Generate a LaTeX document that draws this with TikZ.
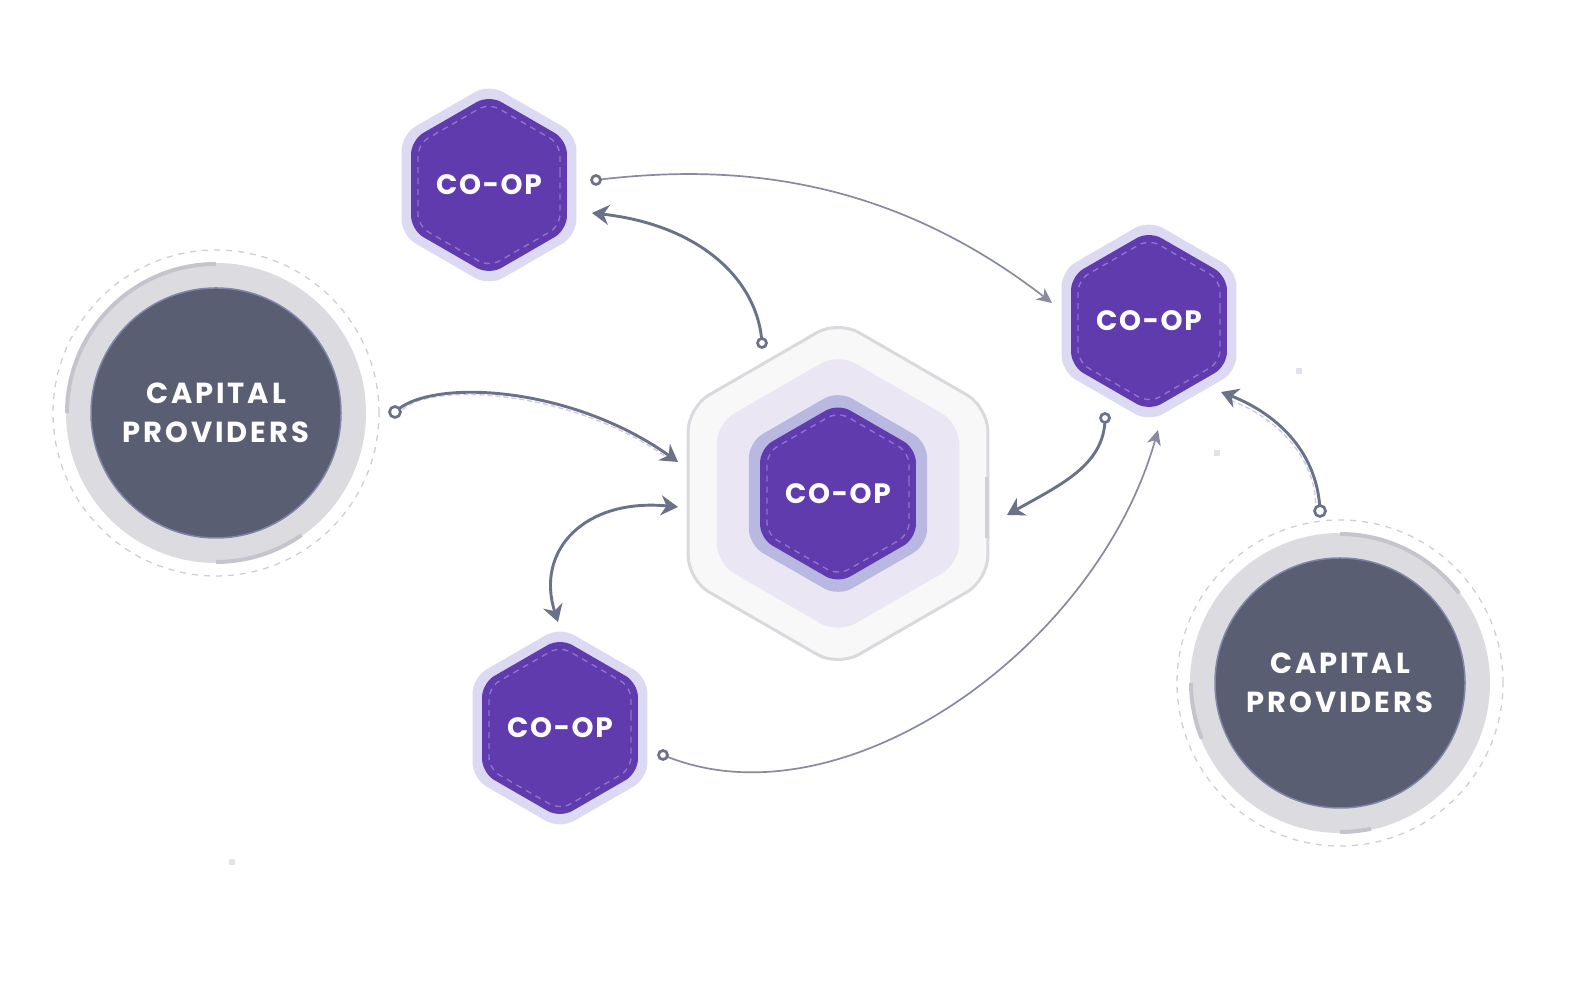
\documentclass[tikz,border=0pt]{standalone}
\usepackage{fontspec}
\newfontfamily\lblfont{Poppins}[LetterSpace=6]
\newfontfamily\cpfont{Poppins}[LetterSpace=10]
\usetikzlibrary{arrows.meta}
\definecolor{purp}{HTML}{5F3BAE}
\definecolor{hexlight}{HTML}{DCDAF2}
\definecolor{hexdash}{HTML}{8F72CC}
\definecolor{cband}{HTML}{B8B8E0}
\definecolor{clav}{HTML}{EBE6F4}
\definecolor{cout}{HTML}{F8F8F8}
\definecolor{cbord}{HTML}{D9D9DE}
\definecolor{cpdark}{HTML}{5A5E73}
\definecolor{cpbord}{HTML}{7F86A8}
\definecolor{ring}{HTML}{DCDCE0}
\definecolor{dcirc}{HTML}{CFCFD4}
\definecolor{arcc}{HTML}{C4C4CC}
\definecolor{connc}{HTML}{6B7189}
\definecolor{connt}{HTML}{878AA2}
\definecolor{compc}{HTML}{CFC6EC}
\definecolor{sqc}{HTML}{E2E2E8}
\newcommand\hexpath[1]{(0:{0.866*#1}) -- (30:#1) -- (90:#1) -- (150:#1) -- (210:#1) -- (270:#1) -- (330:#1) -- cycle}
\tikzset{
  pics/smallhex/.style={code={
    \fill[hexlight, rounded corners=16pt] \hexpath{101};
    \fill[purp, rounded corners=14pt] \hexpath{90};
    \draw[hexdash, line width=1.4pt, dash pattern=on 6pt off 5pt, rounded corners=12pt] \hexpath{82};
  }},
  pics/bighex/.style={code={
    \filldraw[fill=cout, draw=cbord, line width=3pt, rounded corners=24pt] \hexpath{173};
    \fill[clav, rounded corners=20pt] \hexpath{140};
    \fill[cband, rounded corners=16pt] \hexpath{103};
    \fill[purp, rounded corners=14pt] \hexpath{90};
    \draw[hexdash, line width=1.4pt, dash pattern=on 6pt off 5pt, rounded corners=12pt] \hexpath{82};
  }},
  coop/.style={text=white, font=\lblfont\bfseries\fontsize{28}{30}\selectfont, inner sep=0pt},
  cptext/.style={text=white, align=center, font=\cpfont\bfseries\fontsize{29}{39}\selectfont, inner sep=0pt},
  tipA/.tip={Stealth[length=17pt,width=20pt,inset=5.5pt]},
  tipB/.tip={Stealth[length=15pt,width=14pt,inset=4.5pt]},
  conn/.style={draw=connc, line width=2.9pt, -tipA},
  biconn/.style={draw=connc, line width=2.9pt, tipA-tipA},
  thinconn/.style={draw=connt, line width=1.7pt, -tipB},
  companion/.style={draw=compc, line width=1.3pt, dash pattern=on 5pt off 3pt},
  dotm/.style={circle, draw=connc, fill=white, line width=2.7pt, minimum size=#1, inner sep=0pt},
  ringc/.style={fill=ring},
  dashc/.style={draw=dcirc, line width=1.3pt, dash pattern=on 6pt off 6pt},
  arcm/.style={draw=arcc, line width=4pt},
  cpcirc/.style={fill=cpdark, draw=cpbord, line width=1.5pt},
}
\begin{document}
\begin{tikzpicture}[x=1pt,y=1pt]
\useasboundingbox (0,0) rectangle (1584,1000);
\fill[white] (0,0) rectangle (1584,1000);

% small squares
\fill[sqc] (1296,626) rectangle (1302,632);
\fill[sqc] (1214,544) rectangle (1220,550);
\fill[sqc] (229,135) rectangle (235,141);

% capital providers left
\fill[ringc] (216,587) circle[radius=150pt];
\draw[dashc] (216,587) circle[radius=163pt];
\draw[arcm] (216,587) ++(90:149pt) arc[start angle=90, end angle=180, radius=149pt];
\draw[arcm] (216,587) ++(270:149pt) arc[start angle=270, end angle=305, radius=149pt];
\filldraw[cpcirc] (216,587) circle[radius=125pt];
\node[cptext] (cpL) at (216,587) {CAPITAL\\PROVIDERS};

% capital providers right
\fill[ringc] (1340,317) circle[radius=150pt];
\draw[dashc] (1340,317) circle[radius=163pt];
\draw[arcm] (1340,317) ++(37:149pt) arc[start angle=37, end angle=90, radius=149pt];
\draw[arcm] (1340,317) ++(180:149pt) arc[start angle=180, end angle=202, radius=149pt];
\draw[arcm] (1340,317) ++(270:149pt) arc[start angle=270, end angle=282, radius=149pt];
\filldraw[cpcirc] (1340,317) circle[radius=125pt];
\node[cptext] (cpR) at (1340,317) {CAPITAL\\PROVIDERS};

% hexagons
\pic at (838,506.5) {bighex};
\draw[cbord!90!gray, line width=4pt] (987,523) -- (987,462);
\node[coop] (hC) at (838,506.5) {CO-OP};
\pic at (489,815) {smallhex};
\node[coop] (hTL) at (489,815) {CO-OP};
\pic at (1149,679) {smallhex};
\node[coop] (hR) at (1149,679) {CO-OP};
\pic at (560,272) {smallhex};
\node[coop] (hB) at (560,272) {CO-OP};

% connector end points
\coordinate (c1s) at (596,820); \coordinate (c1e) at (1052,697);
\coordinate (c2s) at (762,657); \coordinate (c2e) at (592,787);
\coordinate (c3s) at (395,588); \coordinate (c3e) at (678,538);
\coordinate (c4a) at (678,493); \coordinate (c4b) at (558,378);
\coordinate (c5s) at (1105,582); \coordinate (c5e) at (1007,485);
\coordinate (c6s) at (663,245); \coordinate (c6e) at (1158,570);
\coordinate (c7s) at (1320,489); \coordinate (c7e) at (1221,608);

% companion dashed lines (parallel to the two capital flows)
\draw[companion, shorten <=9pt, shorten >=14pt] (396,584) .. controls (431,618) and (571,611) .. (679,534);
\draw[companion, shorten <=9pt, shorten >=14pt] (1316,488) .. controls (1314,543) and (1277,582) .. (1219,604);

% connectors
\draw[thinconn] (c1s) .. controls (720,835) and (880,830) .. (c1e);
\draw[conn] (c2s) .. controls (758,720) and (700,775) .. (c2e);
\draw[conn] (c3s) .. controls (430,622) and (570,615) .. (c3e);
\draw[biconn] (c4a) .. controls (585,502) and (535,450) .. (c4b);
\draw[conn] (c5s) .. controls (1105,535) and (1060,515) .. (c5e);
\draw[thinconn] (c6s) .. controls (840,170) and (1096,350) .. (c6e);
\draw[conn] (c7s) .. controls (1318,545) and (1280,585) .. (c7e);

% start dots
\node[dotm=9pt] at (c1s) {};
\node[dotm=9pt] at (c2s) {};
\node[dotm=11pt] at (c3s) {};
\node[dotm=9pt] at (c5s) {};
\node[dotm=9pt] at (c6s) {};
\node[dotm=11pt] at (c7s) {};
\end{tikzpicture}
\end{document}
